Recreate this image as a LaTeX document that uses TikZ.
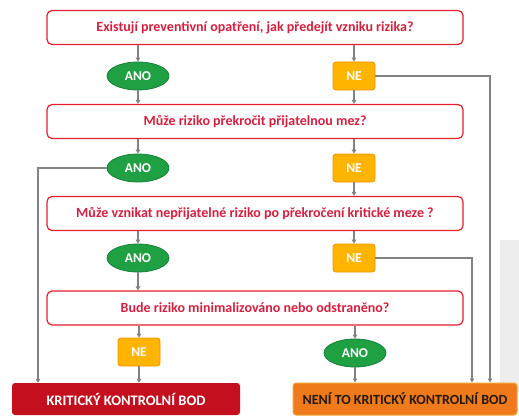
\documentclass[tikz,border=0pt]{standalone}
\usepackage{fontspec}
\setmainfont{Carlito}
\usetikzlibrary{arrows.meta,shapes.geometric}
\definecolor{qred}{HTML}{E4202E}
\definecolor{qtext}{HTML}{D42040}
\definecolor{anogreen}{HTML}{1FA043}
\definecolor{anoborder}{HTML}{17803A}
\definecolor{nefill}{HTML}{FFB400}
\definecolor{neborder}{HTML}{F39200}
\definecolor{kkbred}{HTML}{C40F1E}
\definecolor{nkorange}{HTML}{EE7A1C}
\definecolor{nkborder}{HTML}{F8A531}
\definecolor{linegray}{HTML}{828282}
\begin{document}
\begin{tikzpicture}[x=1pt,y=-1pt,
  question/.style={draw=qred,line width=1.2pt,fill=white,rounded corners=5pt,
    minimum width=416pt,minimum height=34pt,text=qtext,font=\fontsize{14}{16}\selectfont\bfseries},
  ano/.style={ellipse,draw=anoborder,line width=0.8pt,fill=anogreen,text=white,
    minimum width=62pt,minimum height=28pt,inner sep=0pt,font=\fontsize{13.5}{15}\selectfont\bfseries},
  ne/.style={draw=neborder,line width=0.8pt,fill=nefill,rounded corners=3pt,text=white,
    minimum width=42pt,minimum height=28pt,inner sep=0pt,font=\fontsize{13.5}{15}\selectfont\bfseries},
  kkb/.style={fill=kkbred,rounded corners=3pt,text=white,minimum width=228pt,minimum height=32pt,
    font=\fontsize{14.5}{16}\selectfont\bfseries},
  nekkb/.style={draw=nkborder,line width=1pt,fill=nkorange,rounded corners=3pt,text=black!80!brown,
    minimum width=224pt,minimum height=32pt,inner sep=2pt,font=\fontsize{14}{16}\selectfont\bfseries},
  conn/.style={draw=linegray,line width=1.2pt,-{Triangle[length=4pt,width=4.5pt]}}]
  \useasboundingbox (0,0) rectangle (519,420);
  \fill[gray!14] (500,240) rectangle (519,392);

  \node[question] (q1) at (255,27.5) {Existují preventivní opatření, jak předejít vzniku rizika?};
  \node[ano] (ano1) at (138,76) {ANO};
  \node[ne] (ne1) at (354,76) {NE};
  \node[question] (q2) at (255,121.5) {Může riziko překročit přijatelnou mez?};
  \node[ano] (ano2) at (138,168) {ANO};
  \node[ne] (ne2) at (354,168) {NE};
  \node[question] (q3) at (255,213.5) {Může vznikat nepřijatelné riziko po překročení kritické meze ?};
  \node[ano] (ano3) at (138,258) {ANO};
  \node[ne] (ne3) at (354,258) {NE};
  \node[question] (q4) at (255,308) {Bude riziko minimalizováno nebo odstraněno?};
  \node[ne] (ne4) at (139,352) {NE};
  \node[ano] (ano4) at (355,353) {ANO};
  \node[kkb] (kkb) at (126,399) {KRITICKÝ KONTROLNÍ BOD};
  \node[nekkb] (nekkb) at (405,399) {NENÍ TO KRITICKÝ KONTROLNÍ BOD};

  \coordinate (r1) at (490,76);
  \coordinate (l2) at (38,168);
  \coordinate (r3) at (472,258);

  \draw[conn] (ano1 |- q1.south) -- (ano1);
  \draw[conn] (ne1 |- q1.south) -- (ne1);
  \draw[conn] (ano1) -- (ano1 |- q2.north);
  \draw[conn] (ne1) -- (ne1 |- q2.north);
  \draw[conn] (ano2 |- q2.south) -- (ano2);
  \draw[conn] (ne2 |- q2.south) -- (ne2);
  \draw[conn] (ne2) -- (ne2 |- q3.north);
  \draw[conn] (ano3 |- q3.south) -- (ano3);
  \draw[conn] (ne3 |- q3.south) -- (ne3);
  \draw[conn] (ano3) -- (ano3 |- q4.north);
  \draw[conn] (ne4 |- q4.south) -- (ne4);
  \draw[conn] (ano4 |- q4.south) -- (ano4);
  \draw[conn] (ne4) -- (ne4 |- kkb.north);
  \draw[conn] (ano4) -- (ano4 |- nekkb.north);
  \draw[conn] (ne1.east) -- (r1) -- (r1 |- nekkb.north);
  \draw[conn] (ano2.west) -- (l2) -- (l2 |- kkb.north);
  \draw[conn] (ne3.east) -- (r3) -- (r3 |- nekkb.north);
\end{tikzpicture}
\end{document}
